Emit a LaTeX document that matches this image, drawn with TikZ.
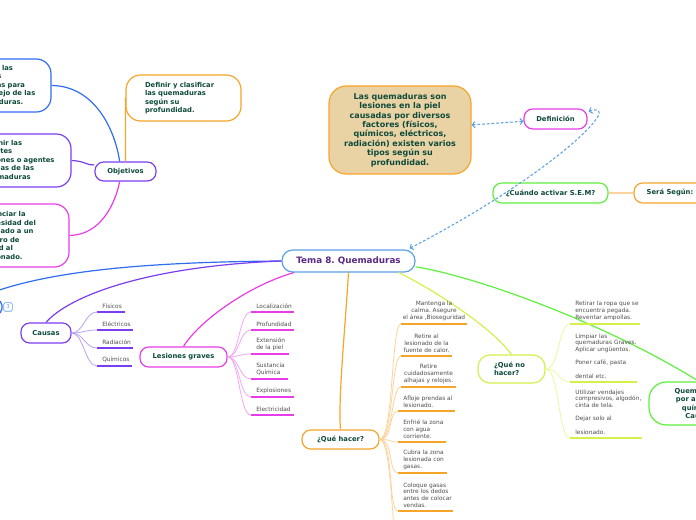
\documentclass[tikz,border=0pt]{standalone}
\usepackage{fontspec}
\setmainfont{DejaVu Sans}
\usetikzlibrary{arrows.meta}
\definecolor{tgreen}{HTML}{0E4A3A}
\definecolor{tpurp}{HTML}{5B2A86}
\definecolor{tgray}{HTML}{4D4D4D}
\definecolor{cblue}{HTML}{2F6DF0}
\definecolor{cpurp}{HTML}{7B3DF0}
\definecolor{cpurpL}{HTML}{B9A2F8}
\definecolor{cmag}{HTML}{E83CE8}
\definecolor{cmagL}{HTML}{F3A8F3}
\definecolor{corange}{HTML}{F7A42A}
\definecolor{corangeL}{HTML}{FCD39E}
\definecolor{cyel}{HTML}{D4F04A}
\definecolor{cyelL}{HTML}{EBF6A2}
\definecolor{cgreen}{HTML}{5DF03C}
\definecolor{clblue}{HTML}{5AA0E6}
\definecolor{cfill}{HTML}{E9D3A5}
\newcommand\leafL[6]{% name, x, y, length(px), colour, text
  \coordinate (#1) at (#2,#3);
  \draw[uline,#5] (#1) -- ++(#4,0) coordinate (#1e);
  \node[leaf,anchor=south west] (#1t) at ([shift={(5,-3.5)}]#1) {#6};}
\newcommand\leafC[6]{%
  \coordinate (#1) at (#2,#3);
  \draw[uline,#5] (#1) -- ++(#4,0) coordinate (#1e);
  \node[leaf,align=center,anchor=south] (#1t) at ([shift={(#4/2,-3.5)}]#1) {#6};}
\begin{document}
\frenchspacing
\begin{tikzpicture}[x=0.75pt,y=-0.75pt,
  every node/.style={inner sep=0pt},
  mbox/.style={draw, line width=0.9pt, fill=white, rounded corners=6.5pt, text=tgreen,
    font=\bfseries\fontsize{5.1}{6.4}\selectfont, align=center},
  branch/.style={line width=0.9pt},
  twig/.style={line width=0.6pt},
  uline/.style={line width=1.3pt},
  leaf/.style={text=tgray, font=\fontsize{4.4}{5}\selectfont, align=left},
  dasharr/.style={clblue, line width=0.8pt, dash pattern=on 2pt off 1.5pt,
    {Straight Barb[length=2pt,width=4.5pt]}-{Straight Barb[length=2pt,width=4.5pt]}}
]
\useasboundingbox (0,0) rectangle (696,520);

% main nodes
\node[mbox, draw=clblue, minimum width=99.75pt, minimum height=16.5pt, rounded corners=8pt,
  text=tpurp, font=\bfseries\fontsize{6.6}{8}\selectfont] (tema) at (348.5,261) {Tema 8. Quemaduras};
\node[mbox, draw=cpurp, minimum width=45.75pt, minimum height=14.25pt] (objetivos) at (125.5,171.5) {Objetivos};
\node[mbox, draw=corange, rounded corners=11pt, minimum height=34.5pt, text width=57.75pt,
  inner xsep=14.25pt, align=left] (objO) at (183.5,98) {Definir y clasificar\\las quemaduras\\según su\\profundidad.};
\node[mbox, draw=cblue, rounded corners=11pt, minimum height=39.75pt, text width=49.5pt,
  inner xsep=9pt, align=left] (obj1) at (6,85.5) {Aplicar las\\básicas\\medidas para\\el manejo de las\\quemaduras.};
\node[mbox, draw=cpurp, rounded corners=11pt, minimum height=39.75pt, text width=54pt,
  inner xsep=12pt, align=left] (obj2) at (19,160.5) {Definir las\\fuentes\\lesiones o agentes\\causas de las\\quemaduras};
\node[mbox, draw=cmag, rounded corners=11pt, minimum height=47.25pt, text width=51pt,
  inner xsep=13.5pt, align=left] (obj3) at (17,235.5) {Enunciar la\\necesidad del\\traslado a un\\centro de\\salud al\\lesionado.};
\node[mbox, draw=cblue, minimum width=40.5pt, minimum height=10.5pt, rounded corners=4pt] (offnode) at (-25,307) {};
\node[draw=clblue, line width=0.5pt, rounded corners=1.5pt, minimum size=6.5pt, text=clblue,
  font=\fontsize{4}{4}\selectfont] (badge) at (8,307) {3};
\node[mbox, draw=cpurp, minimum width=37.5pt, minimum height=15pt] (causas) at (46,333) {Causas};
\node[mbox, draw=cmag, minimum width=65.25pt, minimum height=15pt] (lesiones) at (183.5,357) {Lesiones graves};
\node[mbox, draw=corange, minimum width=57.75pt, minimum height=14.25pt] (quehacer) at (340.5,439.5) {¿Qué hacer?};
\node[mbox, draw=cyel, minimum height=21pt, text width=26.25pt, inner xsep=12pt, align=left,
  rounded corners=9pt] (quenohacer) at (511.5,369) {¿Qué no\\hacer?};
\node[mbox, draw=cgreen, minimum width=75pt, minimum height=32.25pt, rounded corners=13pt] (quim) at (699,403.5)
  {Quemaduras\\por agentes\\químicos\\Causas};
\node[mbox, draw=corange, fill=cfill, minimum width=106.5pt, minimum height=66pt, rounded corners=13pt,
  font=\bfseries\fontsize{6}{7.1}\selectfont] (defbox) at (400,130)
  {Las quemaduras son\\lesiones en la piel\\causadas por diversos\\factores (físicos,\\químicos, eléctricos,\\radiación) existen varios\\tipos según su\\profundidad.};
\node[mbox, draw=cmag, minimum width=47.25pt, minimum height=15pt] (definicion) at (555.5,119) {Definición};
\node[mbox, draw=cgreen, minimum width=86.25pt, minimum height=15pt] (cuando) at (550.5,193) {¿Cuándo activar S.E.M?};
\node[mbox, draw=corange, minimum width=54pt, minimum height=15pt] (sera) at (670,193) {Será Según:};

% main branches
\draw[branch,cblue] (tema.west) .. controls (150,262) and (40,270) .. (offnode.north);
\draw[branch,cpurp] (tema.west) .. controls (150,266) and (70,295) .. (causas.north);
\draw[branch,cmag] (tema.192) .. controls (250,285) and (200,320) .. (lesiones.north);
\draw[branch,corange] (tema.south) .. controls (345,330) and (338,400) .. (quehacer.north);
\draw[branch,cyel] (tema.-13) .. controls (425,285) and (490,325) .. (quenohacer.north);
\draw[branch,cgreen] (tema.-5) .. controls (470,275) and (600,320) .. (quim.north);
\draw[branch,corangeL] (cuando.east) -- (sera.west);

% objetivos
\draw[branch,cblue] (obj1.east) .. controls (95,86) and (115,130) .. (objetivos.120);
\draw[branch,cpurp] (obj2.east) .. controls (85,161) and (88,166) .. (objetivos.168);
\draw[branch,cmag] (obj3.east) .. controls (100,235) and (115,205) .. (objetivos.240);
\draw[branch,corange] (objO.west) -- (objetivos.north);

% dashed relations
\draw[dasharr] (defbox) -- (definicion);
\draw[dasharr] ([shift={(-6,-1)}]tema.north east) .. controls (560,170) and (625,100) .. ([shift={(1,3)}]definicion.north east);

% Causas leaves
\leafL{c1}{97}{312}{28}{cpurp}{Físicos}
\leafL{c2}{97}{330}{36}{cpurp}{Eléctricos}
\leafL{c3}{97}{348}{36}{cpurp}{Radiación}
\leafL{c4}{97}{366}{35}{cpurp}{Químicos}
\foreach \n in {c1,c2,c3,c4}
  \draw[twig,cpurpL] (causas.east) .. controls +(12,0) and +(-12,0) .. (\n);

% Lesiones leaves
\leafL{l1}{251}{312}{43}{cmag}{Localización}
\leafL{l2}{251}{330}{43}{cmag}{Profundidad}
\leafL{l3}{251}{354}{38}{cmag}{Extensión\\de la piel}
\leafL{l4}{251}{379}{37}{cmag}{Sustancia\\Química}
\leafL{l5}{251}{397}{43}{cmag}{Explosiones}
\leafL{l6}{251}{415}{43}{cmag}{Electricidad}
\foreach \n in {l1,l2,l3,l4,l5,l6}
  \draw[twig,cmagL] (lesiones.east) .. controls +(12,0) and +(-12,0) .. (\n);

% Que hacer leaves
\leafC{q1}{401}{324}{66}{corange}{Mantenga la\\calma. Asegure\\el área ,Bioseguridad}
\leafC{q2}{401}{356}{51}{corange}{Retire al\\lesionado de la\\fuente de calor.}
\leafC{q3}{401}{387}{55}{corange}{Retire\\cuidadosamente\\alhajas y relojes.}
\leafL{q4}{398}{411}{57}{corange}{Afloje prendas al\\lesionado.}
\leafL{q5}{398}{442}{48}{corange}{Enfrié la zona\\con agua\\corriente.}
\leafL{q6}{398}{473}{49}{corange}{Cubra la zona\\lesionada con\\gasas.}
\leafL{q7}{398}{511}{55}{corange}{Coloque gasas\\entre los dedos\\antes de colocar\\vendas.}
\coordinate (q8) at (401,560);
\foreach \n in {q1,q2,q3,q4,q5,q6,q7,q8}
  \draw[twig,corangeL] (quehacer.east) .. controls +(14,0) and +(-10,0) .. (\n);

% Que no hacer leaves
\leafL{n1}{570}{324}{70}{cyel}{Retirar la ropa que se\\encuentra pegada.\\Reventar ampollas.}
\leafL{n2}{570}{382}{67}{cyel}{Limpiar las\\quemaduras Graves.\\Aplicar ungüentos.\\[5pt]Poner café, pasta\\[5pt]dental etc.}
\leafL{n3}{570}{438}{72}{cyel}{Utilizar vendajes\\compresivos, algodón,\\cinta de tela.\\[5pt]Dejar solo al\\[5pt]lesionado.}
\foreach \n in {n1,n2,n3}
  \draw[twig,cyelL] (quenohacer.east) .. controls +(14,0) and +(-12,0) .. (\n);
\end{tikzpicture}
\end{document}
